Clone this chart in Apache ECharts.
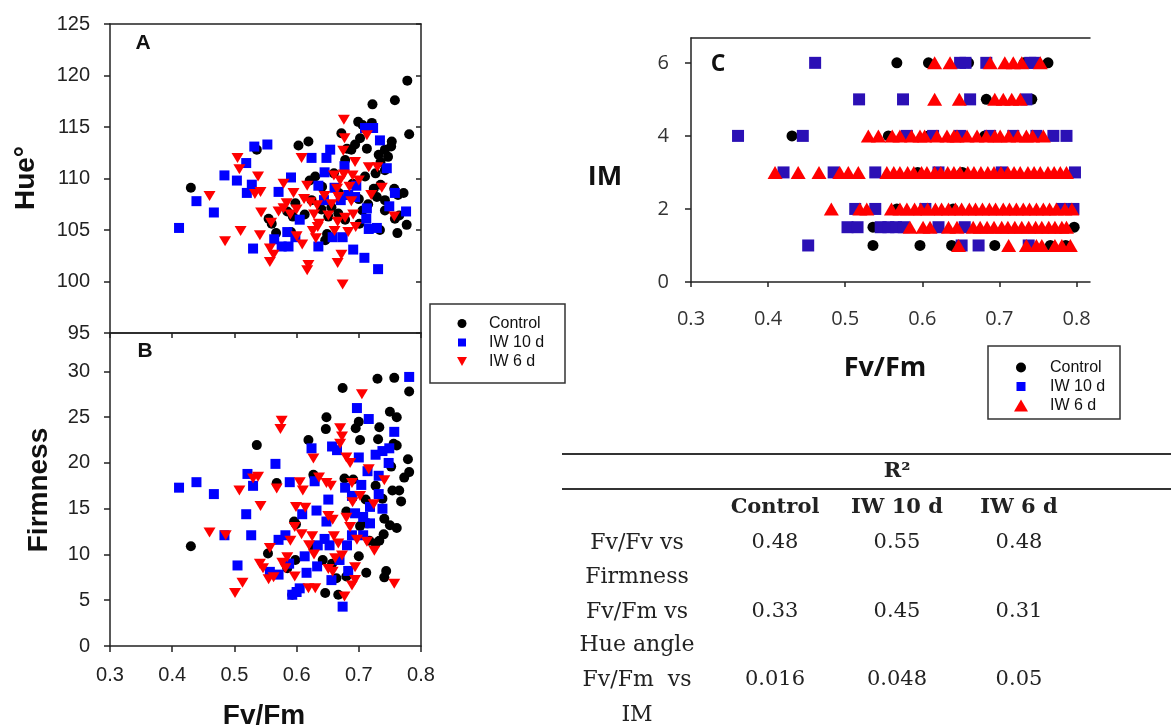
<!DOCTYPE html>
<html>
<head>
<meta charset="utf-8">
<script src="https://cdn.jsdelivr.net/npm/echarts@6/dist/echarts.min.js"></script>
<style>
html,body{margin:0;padding:0;background:#fff;}
#chart{width:1171px;height:726px;}
</style>
</head>
<body>
<div id="chart"></div>
<script>
// ---------- DATA ----------
var seriesNames = ['Control', 'IW 10 d', 'IW 6 d'];
var fvfmTicks = [0.3, 0.4, 0.5, 0.6, 0.7, 0.8];
var hueTicks = [95, 100, 105, 110, 115, 120, 125];
var firmTicks = [0, 5, 10, 15, 20, 25, 30];
var imTicks = [0, 2, 4, 6];

// Panel A: Fv/Fm vs Hue°
var hueControl = [[0.430,109.1],[0.536,112.8],[0.555,106.1],[0.567,104.7],[0.560,105.6],[0.585,106.8],[0.591,104.8],[0.594,106.3],[0.598,107.6],[0.603,113.2],[0.613,106.5],[0.619,113.6],[0.621,109.8],[0.624,107.9],[0.630,110.2],[0.640,107.0],[0.641,109.2],[0.646,104.0],[0.649,104.6],[0.651,106.3],[0.656,107.2],[0.660,110.5],[0.667,106.6],[0.668,108.6],[0.672,114.4],[0.678,111.8],[0.678,106.0],[0.681,112.9],[0.688,112.8],[0.690,109.5],[0.694,113.3],[0.699,115.5],[0.700,108.0],[0.701,105.6],[0.702,113.9],[0.706,106.9],[0.706,115.2],[0.710,110.2],[0.713,112.9],[0.715,107.5],[0.721,115.4],[0.722,117.2],[0.724,109.0],[0.727,110.5],[0.729,108.2],[0.732,112.3],[0.734,105.0],[0.735,111.6],[0.735,109.4],[0.742,110.8],[0.742,107.9],[0.742,106.9],[0.742,112.8],[0.747,112.1],[0.752,113.1],[0.753,113.6],[0.757,109.0],[0.758,117.6],[0.758,106.1],[0.763,108.4],[0.762,104.7],[0.765,106.4],[0.772,108.6],[0.777,105.5],[0.778,119.5],[0.781,114.3]];
var hueIW10 = [[0.411,105.2],[0.439,107.8],[0.467,106.7],[0.484,110.3],[0.504,109.8],[0.519,111.5],[0.520,108.6],[0.528,109.4],[0.530,103.2],[0.532,113.1],[0.553,113.3],[0.564,104.1],[0.571,108.7],[0.576,103.4],[0.585,104.8],[0.587,103.4],[0.591,110.1],[0.598,104.3],[0.605,106.0],[0.624,112.0],[0.635,103.4],[0.635,109.3],[0.644,107.9],[0.645,110.6],[0.648,112.0],[0.654,112.8],[0.658,104.3],[0.661,109.1],[0.671,107.9],[0.674,104.3],[0.677,111.2],[0.683,108.4],[0.691,103.1],[0.694,108.2],[0.696,109.3],[0.709,102.3],[0.710,114.9],[0.712,106.1],[0.713,107.1],[0.716,105.1],[0.723,114.9],[0.729,105.2],[0.731,101.2],[0.734,113.7],[0.745,111.0],[0.749,107.3],[0.758,108.6],[0.776,106.8]];
var hueIW6 = [[0.460,108.3],[0.485,103.9],[0.505,112.0],[0.508,110.9],[0.510,104.9],[0.533,108.5],[0.538,110.2],[0.541,104.5],[0.542,108.7],[0.543,106.7],[0.557,103.2],[0.557,101.9],[0.559,105.7],[0.563,102.6],[0.571,106.8],[0.579,107.1],[0.579,109.5],[0.584,107.6],[0.590,106.5],[0.595,108.6],[0.600,104.4],[0.600,107.0],[0.608,112.0],[0.609,103.6],[0.612,108.0],[0.617,101.1],[0.617,109.3],[0.619,101.6],[0.622,107.7],[0.626,104.9],[0.628,106.5],[0.631,104.2],[0.633,107.4],[0.634,105.3],[0.636,105.6],[0.645,108.3],[0.651,106.4],[0.656,107.5],[0.660,110.3],[0.661,104.9],[0.665,109.0],[0.666,105.8],[0.666,101.8],[0.667,108.2],[0.670,109.8],[0.672,102.6],[0.674,99.7],[0.675,112.7],[0.676,115.7],[0.676,110.4],[0.677,113.9],[0.678,106.2],[0.683,104.8],[0.685,109.2],[0.688,107.8],[0.690,110.3],[0.691,106.5],[0.694,111.6],[0.695,105.3],[0.700,109.8],[0.713,114.2],[0.716,111.1],[0.720,108.4],[0.730,111.1],[0.737,109.1],[0.757,106.3]];

// Panel B: Fv/Fm vs Firmness
var firmControl = [[0.430,10.9],[0.536,21.95],[0.554,10.1],[0.568,17.8],[0.585,8.5],[0.593,5.6],[0.596,13.6],[0.599,13.3],[0.598,9.4],[0.619,22.5],[0.627,18.7],[0.627,10.7],[0.629,18.4],[0.642,9.4],[0.646,5.8],[0.647,23.7],[0.648,25.0],[0.657,9.0],[0.664,7.4],[0.667,5.6],[0.674,28.2],[0.677,18.3],[0.680,14.7],[0.680,7.6],[0.691,18.2],[0.695,23.8],[0.700,24.5],[0.700,9.8],[0.702,22.5],[0.702,13.1],[0.711,16.0],[0.712,8.0],[0.714,13.4],[0.717,11.5],[0.727,17.5],[0.727,11.2],[0.730,29.2],[0.731,22.6],[0.733,23.9],[0.733,11.5],[0.738,16.1],[0.740,12.2],[0.741,13.9],[0.741,7.5],[0.744,8.2],[0.750,25.6],[0.750,13.2],[0.752,19.6],[0.754,17.0],[0.756,22.1],[0.757,29.3],[0.761,25.0],[0.761,21.9],[0.761,12.9],[0.765,17.0],[0.768,15.8],[0.773,18.4],[0.779,20.4],[0.781,19.0],[0.781,27.8]];
var firmIW10 = [[0.411,17.3],[0.439,17.9],[0.467,16.6],[0.484,12.1],[0.505,8.8],[0.519,14.4],[0.521,18.8],[0.527,12.1],[0.530,17.5],[0.557,8.1],[0.566,19.9],[0.571,11.6],[0.571,7.8],[0.582,12.1],[0.588,9.0],[0.589,17.9],[0.593,5.6],[0.600,5.9],[0.605,6.3],[0.609,14.4],[0.613,9.8],[0.616,8.0],[0.624,21.6],[0.629,18.0],[0.632,14.8],[0.633,8.7],[0.634,11.0],[0.645,11.7],[0.648,13.6],[0.651,16.0],[0.653,11.0],[0.656,7.2],[0.657,21.8],[0.665,21.4],[0.669,9.4],[0.674,4.3],[0.678,17.3],[0.681,11.0],[0.683,8.2],[0.689,16.4],[0.689,12.1],[0.694,14.5],[0.697,26.0],[0.700,20.6],[0.704,17.6],[0.707,14.1],[0.707,12.1],[0.714,19.1],[0.716,24.8],[0.718,15.2],[0.718,13.4],[0.727,20.9],[0.732,18.6],[0.732,16.6],[0.738,21.3],[0.738,15.0],[0.748,20.0],[0.749,21.6],[0.757,23.4],[0.781,29.4]];
var firmIW6 = [[0.460,12.4],[0.486,12.1],[0.501,5.8],[0.508,17.0],[0.513,6.9],[0.530,18.3],[0.538,18.5],[0.541,9.0],[0.542,15.3],[0.546,8.5],[0.555,7.3],[0.557,10.7],[0.563,7.5],[0.568,17.2],[0.574,23.7],[0.576,24.6],[0.577,9.1],[0.582,8.5],[0.585,9.7],[0.590,11.5],[0.597,7.6],[0.597,13.0],[0.599,15.2],[0.605,17.9],[0.608,12.2],[0.610,17.0],[0.614,15.1],[0.619,6.3],[0.620,11.0],[0.625,12.0],[0.627,20.5],[0.628,10.0],[0.630,6.3],[0.636,18.4],[0.648,17.8],[0.651,14.2],[0.651,8.4],[0.655,17.5],[0.658,13.8],[0.658,8.1],[0.660,12.0],[0.662,9.6],[0.667,11.2],[0.670,23.8],[0.670,22.1],[0.673,22.9],[0.673,9.9],[0.677,5.4],[0.680,20.6],[0.680,14.0],[0.686,20.0],[0.686,13.0],[0.689,17.8],[0.689,6.6],[0.690,15.7],[0.694,8.6],[0.694,7.2],[0.697,11.6],[0.702,16.4],[0.705,27.5],[0.713,11.4],[0.716,19.3],[0.724,15.5],[0.725,10.4],[0.741,18.1],[0.757,6.8]];

// Panel C: Fv/Fm vs IM
var imControl = [[0.567,6],[0.608,6],[0.660,6],[0.732,6],[0.763,6],[0.683,5],[0.742,5],[0.431,4],[0.556,4],[0.608,4],[0.681,4],[0.594,3],[0.652,3],[0.567,2],[0.640,2],[0.536,1.5],[0.797,1.5],[0.536,1],[0.597,1],[0.638,1],[0.694,1],[0.766,1],[0.786,1]];
var imIW10 = [[0.461,6],[0.649,6],[0.656,6],[0.683,6],[0.740,6],[0.746,6],[0.518,5],[0.575,5],[0.662,5],[0.735,5],[0.361,4],[0.445,4],[0.580,4],[0.614,4],[0.649,4],[0.688,4],[0.718,4],[0.748,4],[0.770,4],[0.787,4],[0.420,3],[0.485,3],[0.539,3],[0.621,3],[0.703,3],[0.798,3],[0.513,2],[0.539,2],[0.604,2],[0.781,2],[0.796,2],[0.503,1.5],[0.516,1.5],[0.546,1.5],[0.556,1.5],[0.566,1.5],[0.576,1.5],[0.621,1.5],[0.655,1.5],[0.452,1],[0.651,1],[0.673,1],[0.738,1]];
var imIW6 = [[0.616,6],[0.636,6],[0.688,6],[0.707,6],[0.718,6],[0.729,6],[0.753,6],
[0.616,5],[0.648,5],[0.694,5],[0.705,5],[0.716,5],[0.727,5],
[0.530,4],[0.543,4],[0.561,4],[0.571,4],[0.586,4],[0.597,4],[0.603,4],[0.619,4],[0.632,4],[0.641,4],[0.645,4],[0.658,4],[0.671,4],[0.683,4],[0.694,4],[0.701,4],[0.712,4],[0.724,4],[0.735,4],[0.743,4],[0.757,4],
[0.409,3],[0.439,3],[0.466,3],[0.493,3],[0.504,3],[0.517,3],[0.554,3],[0.563,3],[0.571,3],[0.581,3],[0.589,3],[0.599,3],[0.606,3],[0.616,3],[0.624,3],[0.633,3],[0.641,3],[0.649,3],[0.659,3],[0.667,3],[0.676,3],[0.685,3],[0.693,3],[0.702,3],[0.711,3],[0.719,3],[0.727,3],[0.737,3],[0.745,3],[0.753,3],[0.763,3],[0.771,3],[0.779,3],[0.787,3],
[0.482,2],[0.519,2],[0.528,2],[0.560,2],[0.571,2],[0.580,2],[0.590,2],[0.598,2],[0.607,2],[0.617,2],[0.625,2],[0.634,2],[0.643,2],[0.651,2],[0.661,2],[0.669,2],[0.678,2],[0.687,2],[0.695,2],[0.705,2],[0.713,2],[0.722,2],[0.731,2],[0.739,2],[0.748,2],[0.757,2],[0.765,2],[0.774,2],[0.785,2],[0.794,2],
[0.584,1.5],[0.601,1.5],[0.610,1.5],[0.634,1.5],[0.645,1.5],[0.666,1.5],[0.675,1.5],[0.684,1.5],[0.693,1.5],[0.703,1.5],[0.711,1.5],[0.720,1.5],[0.729,1.5],[0.738,1.5],[0.747,1.5],[0.755,1.5],[0.764,1.5],[0.772,1.5],[0.781,1.5],[0.787,1.5],
[0.647,1],[0.712,1],[0.735,1],[0.748,1],[0.755,1],[0.772,1],[0.781,1],[0.792,1]];

// R² table
var tableTitle = 'R\u00B2';
var tableCols = ['Control', 'IW 10 d', 'IW 6 d'];
var tableRowLabels = [['Fv/Fv vs', 'Firmness'], ['Fv/Fm vs', 'Hue angle'], ['Fv/Fm  vs', 'IM']];
var r2Values = [['0.48', '0.55', '0.48'], ['0.33', '0.45', '0.31'], ['0.016', '0.048', '0.05']];

// ---------- STYLE ----------
var BLACK = '#000000', BLUE = '#0000ff', BLUE_C = '#2b10b5', RED = '#ff0000';
var AX = '#222';
var SANS = "'Liberation Sans', Arial, sans-serif";
var OPEN = "'Open Sans', sans-serif";
var SERIF = "'DejaVu Serif', serif";
var downTri = 'path://M0,0L12,0L6,10Z';

function isTick(list) {
  return function (v) {
    for (var i = 0; i < list.length; i++) { if (Math.abs(v - list[i]) < 1e-6) return true; }
    return false;
  };
}
function fmt(list) {
  var f = isTick(list);
  return function (v) { return f(v) ? String(+v.toFixed(1)) : ''; };
}

function lineAxis(extra) {
  var base = {
    axisLine: { show: true, onZero: false, lineStyle: { color: AX, width: 1.5 } },
    axisTick: { show: false },
    axisLabel: { show: false },
    splitLine: { show: false }
  };
  for (var k in extra) base[k] = extra[k];
  return base;
}

var chart = echarts.init(document.getElementById('chart'), null, { renderer: 'canvas' });

var option = {
  animation: false,
  backgroundColor: '#fff',
  grid: [
    { left: 110, top: 24, width: 311, height: 309 },
    { left: 110, top: 333, width: 311, height: 313 },
    { left: 691, top: 38, width: 399, height: 244 }
  ],
  xAxis: [
    lineAxis({ gridIndex: 0, type: 'value', position: 'bottom', min: 0.3, max: 0.8, interval: 0.1 }),
    lineAxis({ gridIndex: 0, type: 'value', position: 'top', min: 0.3, max: 0.8, interval: 0.1 }),
    lineAxis({ gridIndex: 1, type: 'value', position: 'bottom', min: 0.3, max: 0.8, interval: 0.1,
      axisTick: { show: true, length: 6, lineStyle: { color: AX, width: 1.5 } },
      axisLabel: { show: true, margin: 19, color: AX, fontFamily: SANS, fontSize: 20, formatter: fmt(fvfmTicks) } }),
    lineAxis({ gridIndex: 1, type: 'value', position: 'top', min: 0.3, max: 0.8, interval: 0.1,
      axisTick: { show: true, inside: true, length: 5, lineStyle: { color: AX, width: 1.5 } } }),
    lineAxis({ gridIndex: 2, type: 'value', position: 'bottom', min: 0.3, max: 0.8175, interval: 0.1,
      axisTick: { show: true, length: 5, lineStyle: { color: AX, width: 1.5 }, customValues: fvfmTicks },
      axisLabel: { show: true, margin: 27, color: '#333', fontFamily: OPEN, fontSize: 20, formatter: fmt(fvfmTicks), customValues: fvfmTicks } }),
    lineAxis({ gridIndex: 2, type: 'value', position: 'top', min: 0.3, max: 0.8175 })
  ],
  yAxis: [
    lineAxis({ gridIndex: 0, type: 'value', position: 'left', min: 95, max: 125, interval: 5,
      axisTick: { show: true, length: 6, lineStyle: { color: AX, width: 1.5 } },
      axisLabel: { show: true, margin: 20, color: AX, fontFamily: SANS, fontSize: 20 } }),
    lineAxis({ gridIndex: 0, type: 'value', position: 'right', min: 95, max: 125, interval: 5,
      axisTick: { show: true, inside: true, length: 5, lineStyle: { color: AX, width: 1.5 } } }),
    lineAxis({ gridIndex: 1, type: 'value', position: 'left', min: 0, max: 34.2, interval: 5,
      axisTick: { show: true, length: 6, lineStyle: { color: AX, width: 1.5 }, customValues: firmTicks },
      axisLabel: { show: true, margin: 20, color: AX, fontFamily: SANS, fontSize: 20, formatter: fmt(firmTicks), customValues: firmTicks } }),
    lineAxis({ gridIndex: 1, type: 'value', position: 'right', min: 0, max: 34.2 }),
    lineAxis({ gridIndex: 2, type: 'value', position: 'left', min: 0, max: 6.68, interval: 2,
      axisTick: { show: true, length: 6, lineStyle: { color: AX, width: 1.5 }, customValues: imTicks },
      axisLabel: { show: true, margin: 22, color: '#333', fontFamily: OPEN, fontSize: 20, formatter: fmt(imTicks), customValues: imTicks } })
  ],
  legend: [
    {
      orient: 'vertical', left: 457, top: 314, padding: 0, itemGap: 0,
      itemWidth: 44, itemHeight: 10, selectedMode: false,
      textStyle: { fontFamily: SANS, fontSize: 16, color: '#111', lineHeight: 19 },
      data: [
        { name: seriesNames[0], icon: 'path://M0,0M10,10M5,0.5A4.5,4.5,0,1,1,5,9.5A4.5,4.5,0,1,1,5,0.5Z' },
        { name: seriesNames[1], icon: 'path://M0,0M10,10M1,1L9,1L9,9L1,9Z' },
        { name: seriesNames[2], icon: 'path://M0,0M10,10M0,0.5L10,0.5L5,9.5Z' }
      ]
    },
    {
      orient: 'vertical', left: 1014, top: 358, padding: 0, itemGap: 0,
      itemWidth: 48, itemHeight: 14, selectedMode: false,
      textStyle: { fontFamily: SANS, fontSize: 16, color: '#111', lineHeight: 19 },
      data: [
        { name: seriesNames[0], icon: 'path://M0,0M14,14M7,2A5,5,0,1,1,7,12A5,5,0,1,1,7,2Z' },
        { name: seriesNames[1], icon: 'path://M0,0M14,14M2.5,2.5L11.5,2.5L11.5,11.5L2.5,11.5Z' },
        { name: seriesNames[2], icon: 'path://M0,0M14,14M0,13L7,1L14,13Z' }
      ]
    }
  ],
  series: [
    { name: seriesNames[0], type: 'scatter', xAxisIndex: 0, yAxisIndex: 0, data: hueControl, symbol: 'circle', symbolSize: 10, itemStyle: { color: BLACK, opacity: 1 } },
    { name: seriesNames[1], type: 'scatter', xAxisIndex: 0, yAxisIndex: 0, data: hueIW10, symbol: 'rect', symbolSize: 10, itemStyle: { color: BLUE, opacity: 1 } },
    { name: seriesNames[2], type: 'scatter', xAxisIndex: 0, yAxisIndex: 0, data: hueIW6, symbol: downTri, symbolSize: [12, 10], itemStyle: { color: RED, opacity: 1 } },
    { name: seriesNames[0], type: 'scatter', xAxisIndex: 2, yAxisIndex: 2, data: firmControl, symbol: 'circle', symbolSize: 10, itemStyle: { color: BLACK, opacity: 1 } },
    { name: seriesNames[1], type: 'scatter', xAxisIndex: 2, yAxisIndex: 2, data: firmIW10, symbol: 'rect', symbolSize: 10, itemStyle: { color: BLUE, opacity: 1 } },
    { name: seriesNames[2], type: 'scatter', xAxisIndex: 2, yAxisIndex: 2, data: firmIW6, symbol: downTri, symbolSize: [12, 10], itemStyle: { color: RED, opacity: 1 } },
    { name: seriesNames[0], type: 'scatter', xAxisIndex: 4, yAxisIndex: 4, data: imControl, symbol: 'circle', symbolSize: 11, itemStyle: { color: BLACK, opacity: 1 } },
    { name: seriesNames[1], type: 'scatter', xAxisIndex: 4, yAxisIndex: 4, data: imIW10, symbol: 'rect', symbolSize: 12, itemStyle: { color: BLUE_C, opacity: 1 } },
    { name: seriesNames[2], type: 'scatter', xAxisIndex: 4, yAxisIndex: 4, data: imIW6, symbol: 'triangle', symbolSize: [15, 13], itemStyle: { color: RED, opacity: 1 } }
  ],
  graphic: []
};

// ---------- GRAPHIC TEXT / FRAMES ----------
var g = option.graphic;
function txt(x, y, text, font, extra) {
  var el = { type: 'text', x: x, y: y, silent: true,
    style: { text: text, font: font, fill: '#111', textAlign: 'center', textVerticalAlign: 'middle' } };
  if (extra) for (var k in extra) el[k] = extra[k];
  g.push(el);
}
txt(26, 178, 'Hue\u00B0', 'bold 28px ' + SANS, { rotation: Math.PI / 2 });
txt(39, 490, 'Firmness', 'bold 28px ' + SANS, { rotation: Math.PI / 2 });
txt(264, 716, 'Fv/Fm', 'bold 28px ' + SANS);
txt(605, 177, 'IM', 'bold 27px ' + OPEN);
txt(885, 368, 'Fv/Fm', 'bold 27px ' + OPEN);
txt(143, 43, 'A', 'bold 21px ' + SANS);
txt(145, 351, 'B', 'bold 21px ' + SANS);
txt(718, 64, 'C', 'bold 23px ' + OPEN);
g.push({ type: 'rect', silent: true, shape: { x: 430, y: 304, width: 135, height: 79 }, style: { fill: 'none', stroke: '#333', lineWidth: 1.5 } });
g.push({ type: 'rect', silent: true, shape: { x: 988, y: 346, width: 132, height: 73 }, style: { fill: 'none', stroke: '#333', lineWidth: 1.5 } });
g.push({ type: 'line', silent: true, shape: { x1: 562, y1: 454, x2: 1171, y2: 454 }, style: { stroke: '#333', lineWidth: 2 } });
g.push({ type: 'line', silent: true, shape: { x1: 562, y1: 489, x2: 1171, y2: 489 }, style: { stroke: '#333', lineWidth: 2 } });
var colX = [775, 897, 1019];
var rowLabelX = 637;
var rowY = [[543, 577], [612, 645], [680, 715]];
g.push({ type: 'text', x: 897, y: 472, silent: true, style: { text: tableTitle, font: 'bold 21px ' + SERIF, fill: '#222', textAlign: 'center', textVerticalAlign: 'middle' } });
tableCols.forEach(function (c, i) {
  g.push({ type: 'text', x: colX[i], y: 508, silent: true, style: { text: c, font: 'bold 21px ' + SERIF, fill: '#222', textAlign: 'center', textVerticalAlign: 'middle' } });
});
tableRowLabels.forEach(function (lines, r) {
  lines.forEach(function (t, j) {
    g.push({ type: 'text', x: rowLabelX, y: rowY[r][j], silent: true, style: { text: t, font: '22px ' + SERIF, fill: '#222', textAlign: 'center', textVerticalAlign: 'middle' } });
  });
  r2Values[r].forEach(function (v, i) {
    g.push({ type: 'text', x: colX[i], y: rowY[r][0], silent: true, style: { text: v, font: '21px ' + SERIF, fill: '#222', textAlign: 'center', textVerticalAlign: 'middle' } });
  });
});

chart.setOption(option);
</script>
</body>
</html>
